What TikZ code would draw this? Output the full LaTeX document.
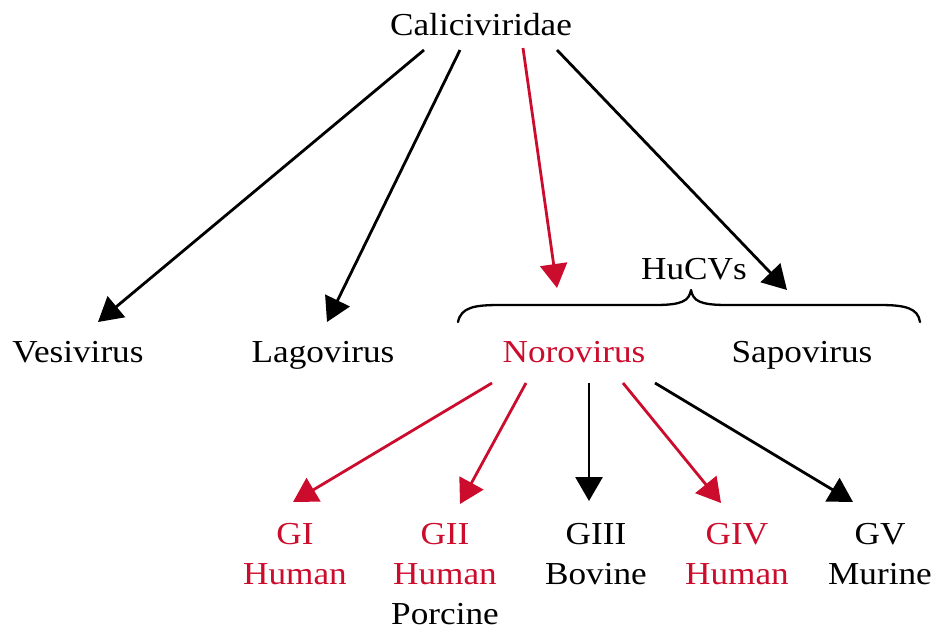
\documentclass[tikz,border=0pt]{standalone}
\usepackage{fontspec}
\setmainfont{Liberation Serif}[FakeStretch=1.1]
\usetikzlibrary{arrows.meta}
\definecolor{nred}{RGB}{204,12,44}
\tikzset{
  lbl/.style={inner sep=0pt, font=\fontsize{32}{40}\selectfont, text=black},
  rlbl/.style={lbl, text=nred},
  grp/.style={lbl, align=center, anchor=north},
  conn/.style={line width=2.8pt, draw=black, -{Triangle[length=24pt,width=27pt]}},
  rconn/.style={conn, draw=nred, fill=nred},
}
\begin{document}
\begin{tikzpicture}[x=1pt,y=-1pt]
\useasboundingbox (0,0) rectangle (939,630);
% labels
\node[lbl, anchor=base] (cal) at (481,35) {Caliciviridae};
\node[lbl, anchor=base] (ves) at (78,362) {Vesivirus};
\node[lbl, anchor=base] (lag) at (323,362) {Lagovirus};
\node[rlbl, anchor=base] (noro) at (574,362) {Norovirus};
\node[lbl, anchor=base] (sapo) at (802,362) {Sapovirus};
\node[lbl, anchor=base] (hucv) at (694,279) {HuCVs};
\node[grp, text=nred] (gi) at (295,523) {GI\\Human};
\node[grp, text=nred] (gii) at (445,523) {GII\\Human\\{\color{black}Porcine}};
\node[grp] (giii) at (596,523) {GIII\\Bovine};
\node[grp, text=nred] (giv) at (737,523) {GIV\\Human};
\node[grp] (gv) at (880,523) {GV\\Murine};
% connector ends
\coordinate (s1) at (424,50);  \coordinate (t1) at (98,322);
\coordinate (s2) at (460,50);  \coordinate (t2) at (327,322);
\coordinate (s3) at (523,48);  \coordinate (t3) at (557,288);
\coordinate (s4) at (557,50);  \coordinate (t4) at (787,290);
\coordinate (s5) at (492,383); \coordinate (t5) at (293,502);
\coordinate (s6) at (526,383); \coordinate (t6) at (460,504);
\coordinate (s7) at (589,383); \coordinate (t7) at (589,501);
\coordinate (s8) at (623,383); \coordinate (t8) at (721,503);
\coordinate (s9) at (655,383); \coordinate (t9) at (853,502);
\draw[conn] (s1) -- (t1);
\draw[conn] (s2) -- (t2);
\draw[rconn] (s3) -- (t3);
\draw[conn] (s4) -- (t4);
\draw[rconn] (s5) -- (t5);
\draw[rconn] (s6) -- (t6);
\draw[conn] (s7) -- (t7);
\draw[rconn] (s8) -- (t8);
\draw[conn] (s9) -- (t9);
% brace
\draw[line width=2.3pt, line cap=round, line join=round]
  (458,322) .. controls (461,307) and (475,305) .. (500,305)
  -- (655,305) .. controls (682,305) and (689,301) .. (691,290)
  .. controls (693,301) and (700,305) .. (727,305)
  -- (880,305) .. controls (905,305) and (918,308) .. (920,322);
\end{tikzpicture}
\end{document}
